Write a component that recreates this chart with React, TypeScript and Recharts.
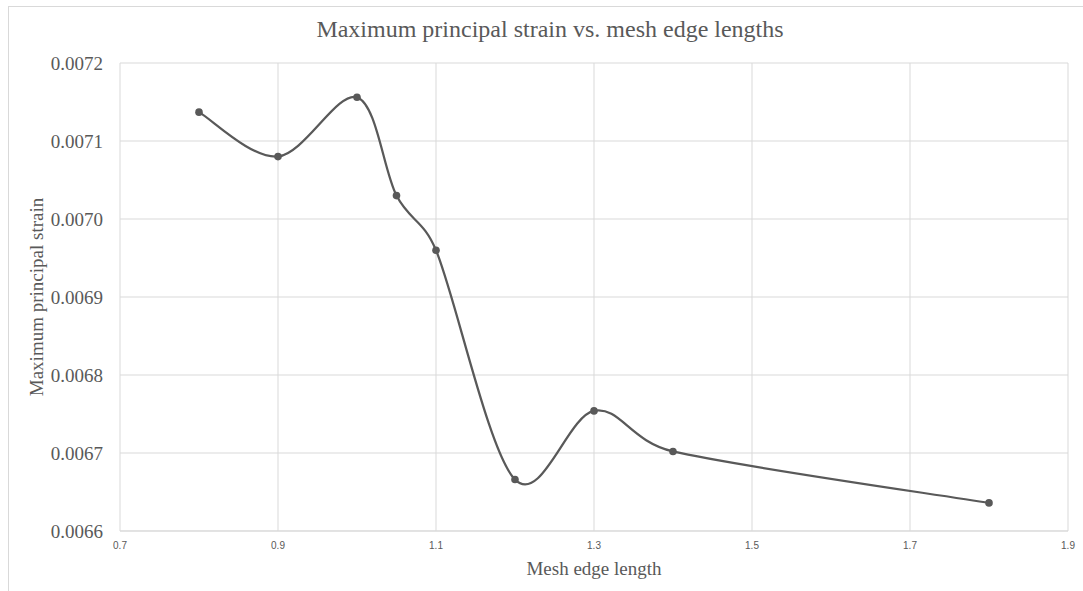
import React from "react";
import {
  LineChart,
  Line,
  XAxis,
  YAxis,
  CartesianGrid,
} from "recharts";

// mesh edge length vs. max principal strain
const edgeLengths = [0.8, 0.9, 1.0, 1.05, 1.1, 1.2, 1.3, 1.4, 1.8];
const maxStrain = [
  0.007137, 0.00708, 0.007156, 0.00703, 0.00696, 0.006666, 0.006754,
  0.006702, 0.006636,
];
const xTicks = [0.7, 0.9, 1.1, 1.3, 1.5, 1.7, 1.9];
const yTicks = [0.0066, 0.0067, 0.0068, 0.0069, 0.007, 0.0071, 0.0072];

const data = edgeLengths.map((len, i) => ({ len, strain: maxStrain[i] }));

const GREY = "#595959";
const GRID = "#d9d9d9";
const SERIF = "'Liberation Serif', 'Times New Roman', serif";

const dist = (a: number[], b: number[]) =>
  Math.hypot(a[0] - b[0], a[1] - b[1]);

// spreadsheet-style smoothed line: bezier segments with control arms of
// (p2 - p0) / 6, shortened to at most half the segment length
const smoothCurve = (context: any) => {
  let pts: number[][] = [];
  return {
    areaStart() {},
    areaEnd() {},
    lineStart() {
      pts = [];
    },
    lineEnd() {
      const n = pts.length;
      if (!n) return;
      context.moveTo(pts[0][0], pts[0][1]);
      for (let i = 0; i < n - 1; i++) {
        const p0 = pts[Math.max(i - 1, 0)];
        const p1 = pts[i];
        const p2 = pts[i + 1];
        const p3 = pts[Math.min(i + 2, n - 1)];
        const d02 = dist(p0, p2);
        const d12 = dist(p1, p2);
        const d13 = dist(p1, p3);
        let f1 = 1 / 6;
        let f2 = 1 / 6;
        if (!(d02 / 6 < d12 / 2 && d13 / 6 < d12 / 2)) {
          if (d02 / 6 >= d12 / 2) f1 = d12 / (2 * d02);
          if (d13 / 6 >= d12 / 2) f2 = d12 / (2 * d13);
        }
        context.bezierCurveTo(
          p1[0] + (p2[0] - p0[0]) * f1,
          p1[1] + (p2[1] - p0[1]) * f1,
          p2[0] - (p3[0] - p1[0]) * f2,
          p2[1] - (p3[1] - p1[1]) * f2,
          p2[0],
          p2[1]
        );
      }
    },
    point(x: number, y: number) {
      pts.push([+x, +y]);
    },
  };
};

const YTitle = (props: any) => {
  const vb = props.viewBox || { x: 0, y: 0, height: 0 };
  const cx = 43;
  const cy = vb.y + vb.height / 2;
  return (
    <text
      x={cx}
      y={cy}
      transform={`rotate(-90 ${cx} ${cy})`}
      textAnchor="middle"
      fill={GREY}
      fontFamily={SERIF}
      fontSize={19}
    >
      Maximum principal strain
    </text>
  );
};

const XTitle = (props: any) => {
  const vb = props.viewBox || { x: 0, y: 0, width: 0 };
  return (
    <text
      x={vb.x + vb.width / 2}
      y={575}
      textAnchor="middle"
      fill={GREY}
      fontFamily={SERIF}
      fontSize={19}
    >
      Mesh edge length
    </text>
  );
};

export default function App() {
  return (
    <div
      style={{
        position: "absolute",
        left: 0,
        top: 0,
        width: 1083,
        height: 591,
        overflow: "hidden",
        background: "#fff",
      }}
    >
      <div
        style={{
          position: "absolute",
          left: 8,
          top: 6,
          width: 1200,
          height: 700,
          border: `1px solid ${GRID}`,
        }}
      />
      <div
        style={{
          position: "absolute",
          left: 0,
          top: 15,
          width: 1100,
          textAlign: "center",
          fontFamily: SERIF,
          fontSize: 24,
          color: GREY,
          lineHeight: "28px",
        }}
      >
        Maximum principal strain vs. mesh edge lengths
      </div>
      <div style={{ position: "absolute", left: 0, top: 0 }}>
        <LineChart
          width={1083}
          height={591}
          data={data}
          margin={{ top: 63, right: 15, bottom: 0, left: 0 }}
        >
          <CartesianGrid stroke={GRID} strokeWidth={1} />
          <XAxis
            dataKey="len"
            type="number"
            domain={[0.7, 1.9]}
            ticks={xTicks}
            interval={0}
            height={60}
            tickFormatter={(v: number) => v.toFixed(1)}
            tick={{
              fill: GREY,
              fontSize: 10,
              fontFamily: "'Liberation Sans', Arial, sans-serif",
            }}
            tickLine={false}
            tickMargin={5}
            axisLine={{ stroke: GRID }}
            label={<XTitle />}
          />
          <YAxis
            type="number"
            domain={[0.0066, 0.0072]}
            ticks={yTicks}
            interval={0}
            width={120}
            tickFormatter={(v: number) => v.toFixed(4)}
            tick={{ fill: GREY, fontSize: 19, fontFamily: SERIF }}
            tickLine={false}
            tickMargin={11}
            axisLine={false}
            label={<YTitle />}
          />
          <Line
            dataKey="strain"
            type={smoothCurve as any}
            stroke={GREY}
            strokeWidth={2.25}
            dot={{ r: 3.8, fill: GREY, stroke: GREY, strokeWidth: 0 }}
            activeDot={false}
            isAnimationActive={false}
          />
        </LineChart>
      </div>
    </div>
  );
}
